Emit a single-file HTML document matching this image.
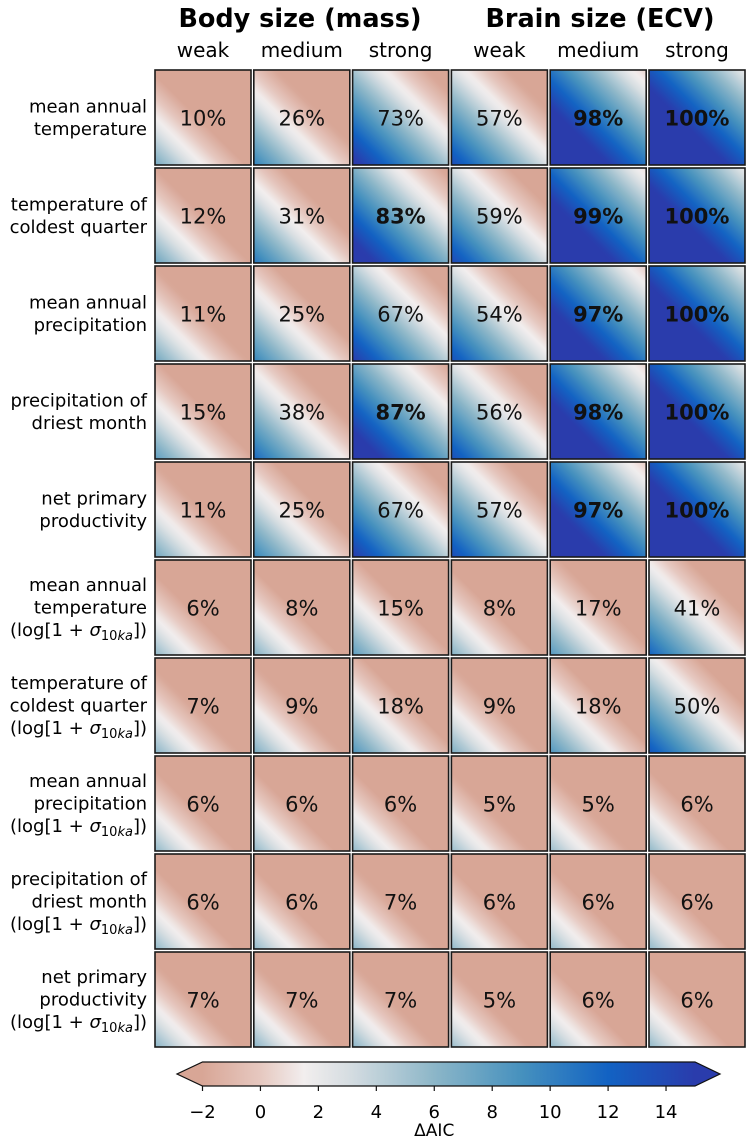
<!DOCTYPE html>
<html><head><meta charset="utf-8"><style>
html,body{margin:0;padding:0;background:#fff;}
svg{display:block;font-family:"DejaVu Sans","Liberation Sans",sans-serif;}
</style></head><body>
<svg id="chart" width="750" height="1138" viewBox="0 0 750 1138" xmlns="http://www.w3.org/2000/svg">
<defs id="defs"></defs>
<text x="300" y="27" font-size="25.5" font-weight="bold" text-anchor="middle">Body size (mass)</text>
<text x="600" y="27" font-size="25.5" font-weight="bold" text-anchor="middle">Brain size (ECV)</text>
<g id="cells"></g>
<g id="colorbar"></g>
</svg>
<script>
const groups = ["weak","medium","strong","weak","medium","strong"];
const rowLabels = [
 ["mean annual","temperature"],
 ["temperature of","coldest quarter"],
 ["mean annual","precipitation"],
 ["precipitation of","driest month"],
 ["net primary","productivity"],
 ["mean annual","temperature",null],
 ["temperature of","coldest quarter",null],
 ["mean annual","precipitation",null],
 ["precipitation of","driest month",null],
 ["net primary","productivity",null]
];
const pctRow1 = [10,26,73,57,98,100];
const pctRow2 = [12,31,83,59,99,100];
const pctRow3 = [11,25,67,54,97,100];
const pctRow4 = [15,38,87,56,98,100];
const pctRow5 = [11,25,67,57,97,100];
const pctRow6 = [6,8,15,8,17,41];
const pctRow7 = [7,9,18,9,18,50];
const pctRow8 = [6,6,6,5,5,6];
const pctRow9 = [6,6,7,6,6,6];
const pctRow10 = [7,7,7,5,6,6];
const percents = [pctRow1,pctRow2,pctRow3,pctRow4,pctRow5,pctRow6,pctRow7,pctRow8,pctRow9,pctRow10];
const cbTicks = [-2,0,2,4,6,8,10,12,14];
const cbMin = -2, cbMax = 15;

const NS="http://www.w3.org/2000/svg";
function mk(tag,attrs,parent){const e=document.createElementNS(NS,tag);for(const k in attrs)e.setAttribute(k,attrs[k]);if(parent)parent.appendChild(e);return e;}
const stops=[[-2,[216,166,150]],[0,[230,200,192]],[1.5,[242,238,238]],[3,[215,222,226]],[6,[140,182,200]],[9,[70,145,190]],[12,[18,98,195]],[15,[42,60,172]]];
function cmap(v){
 if(v<=stops[0][0])return stops[0][1];
 for(let i=1;i<stops.length;i++){if(v<=stops[i][0]){const a=stops[i-1],b=stops[i];const f=(v-a[0])/(b[0]-a[0]);return a[1].map((c,j)=>Math.round(c+(b[1][j]-c)*f));}}
 return stops[stops.length-1][1];
}
function rgb(c){return `rgb(${c[0]},${c[1]},${c[2]})`;}
const x0=155, colPitch=98.8, cw=96, y0=70, rowPitch=98, ch=95;
const defs=document.getElementById('defs'), cells=document.getElementById('cells'), cb=document.getElementById('colorbar');
const svg=document.getElementById('chart');

groups.forEach((g,i)=>{
 const t=mk('text',{x:x0+i*colPitch+cw/2,y:57,'font-size':20,'text-anchor':'middle'},svg);
 
 
 t.textContent=g;
});

percents.forEach((row,r)=>{
 const cy=y0+r*rowPitch;
 const lines=rowLabels[r];
 const n=lines.length, lh=22.5, top=cy+ch/2-(n-1)*lh/2+6;
 const lab=mk('text',{x:147,y:top,'font-size':18,'text-anchor':'end'},svg);
 
 
 lines.forEach((l,k)=>{
  const ts=mk('tspan',{x:147,y:top+k*lh},lab);
  if(l===null){
   ts.textContent='(log[1 + ';
   const s=mk('tspan',{'font-style':'italic'},lab);s.textContent='σ';
   const sub=mk('tspan',{'font-size':13,dy:4},lab);sub.textContent='10';
   const sub2=mk('tspan',{'font-size':13,'font-style':'italic'},lab);sub2.textContent='ka';
   const end=mk('tspan',{dy:-4},lab);end.textContent='])';
  } else ts.textContent=l;
 });
 row.forEach((p,c)=>{
  const cx=x0+c*colPitch;
  const id='g'+r+'_'+c;
  const lg=mk('linearGradient',{id:id,x1:0,y1:1,x2:1,y2:0},defs);
  const f=p/100;
  let s = f<=0.5 ? Math.sqrt(2*f) : 2-Math.sqrt(2*(1-f));
  const tw=s/2;
  for(let k=0;k<=40;k++){
   const t=k/40;
   const d=tw-t;
   const v=d>0?2+22*d:2+16*d;
   mk('stop',{offset:t,'stop-color':rgb(cmap(v))},lg);
  }
  const rect=mk('rect',{x:cx,y:cy,width:cw,height:ch,fill:`url(#${id})`,stroke:'#1a1a1a','stroke-width':1.6},cells);
  
  
  const tx=mk('text',{x:cx+cw/2,y:cy+ch/2+8,'font-size':21,'text-anchor':'middle','font-weight':p>=80?'bold':'normal',fill:'#111'},cells);
  
  
  tx.textContent=p+'%';
 });
});

// colorbar
const cbX0=202.5, cbX1=695, cbY=1062, cbH=24;
const sx=v=>cbX0+(v-cbMin)/(cbMax-cbMin)*(cbX1-cbX0);
const cg=mk('linearGradient',{id:'cbg',x1:0,y1:0,x2:1,y2:0},defs);
for(let k=0;k<=34;k++){const v=cbMin+(cbMax-cbMin)*k/34;mk('stop',{offset:k/34,'stop-color':rgb(cmap(v))},cg);}
const body=mk('rect',{x:cbX0,y:cbY,width:cbX1-cbX0,height:cbH,fill:'url(#cbg)'},cb);


const la=mk('polygon',{points:`${cbX0},${cbY} 177,${cbY+cbH/2} ${cbX0},${cbY+cbH}`,fill:rgb(cmap(cbMin))},cb);


const ra=mk('polygon',{points:`${cbX1},${cbY} 720,${cbY+cbH/2} ${cbX1},${cbY+cbH}`,fill:rgb(cmap(cbMax))},cb);


const ol=mk('polygon',{points:`${cbX0},${cbY} ${cbX1},${cbY} 720,${cbY+cbH/2} ${cbX1},${cbY+cbH} ${cbX0},${cbY+cbH} 177,${cbY+cbH/2}`,fill:'none',stroke:'#111','stroke-width':1.2},cb);


cbTicks.forEach(v=>{
 const x=sx(v);
 const tk=mk('line',{x1:x,x2:x,y1:cbY+cbH,y2:cbY+cbH+5,stroke:'#111','stroke-width':1.2},cb);
 
 
 const tl=mk('text',{x:x,y:1118,'font-size':18,'text-anchor':'middle'},cb);
 
 
 tl.textContent=v<0?'−'+Math.abs(v):String(v);
});
const at=mk('text',{x:sx(6),y:1136,'font-size':17,'text-anchor':'middle'},cb);


at.textContent='ΔAIC';
</script>
</body></html>
